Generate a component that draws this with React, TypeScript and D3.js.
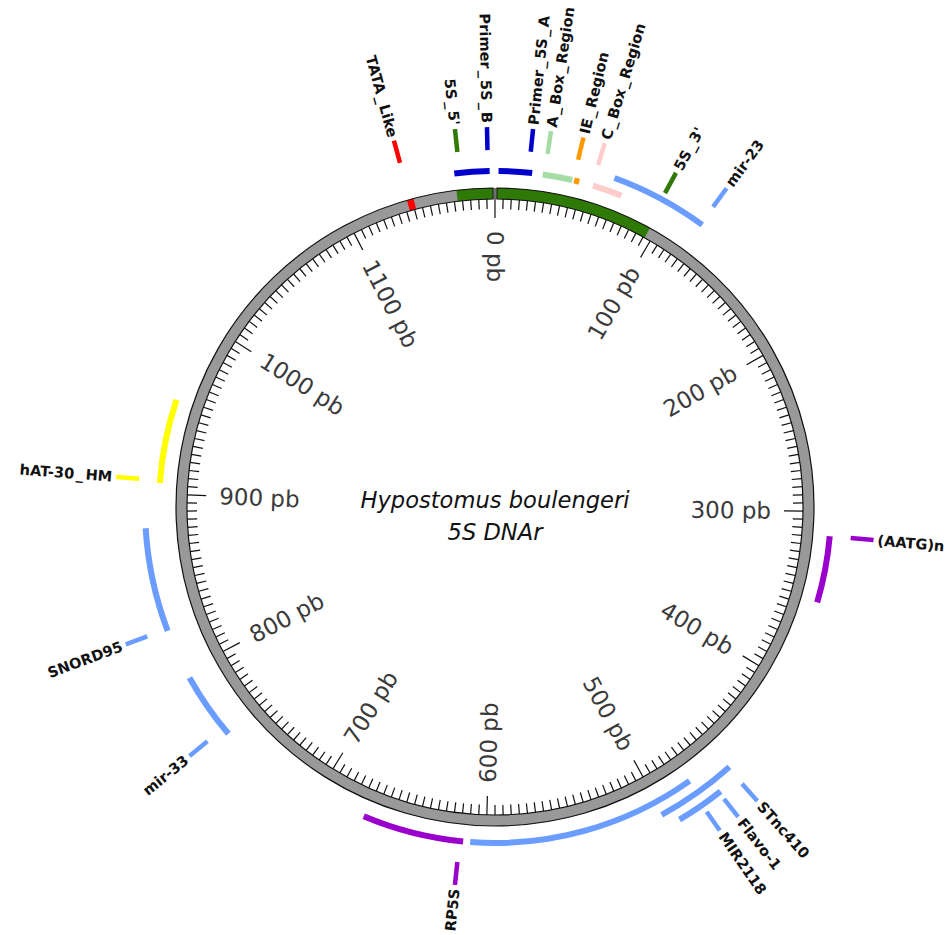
import React from 'react';
import * as d3 from 'd3';

// ---------- data ----------
const TOTAL = 1190;
const TITLE_LINES = ['Hypostomus boulengeri', '5S DNAr'];
const MAJOR_TICKS = [0, 100, 200, 300, 400, 500, 600, 700, 800, 900, 1000, 1100];
const TICK_LABELS = MAJOR_TICKS.map((v) => `${v} pb`);
const MINOR_STEP = 5;

// features drawn inside the backbone ring
const RING_NAMES = ["5S_5'", "5S_3'", 'TATA_Like'];
const RING_STARTS = [1167, 0, 1137];
const RING_ENDS = [1190, 96, 1141];
const RING_LABEL_POS = [1170, 94, 1139];
const RING_COLORS = ['#2f7a06', '#2f7a06', '#ff0000'];

// features drawn on the outer tracks
const FEAT_NAMES = [
  'Primer_5S_B', 'Primer_5S_A', 'A_Box_Region', 'IE_Region', 'C_Box_Region', 'mir-23',
  '(AATG)n', 'STnc410', 'Flavo-1', 'MIR2118', 'RP5S', 'mir-33', 'SNORD95', 'hAT-30_HM',
];
const FEAT_STARTS = [1167, 2, 27, 45, 56, 66, 314, 456, 468, 478, 613, 759, 824, 906];
const FEAT_ENDS = [1187, 21, 44, 48, 73, 120, 352, 501, 494, 609, 671, 796, 881, 954];
const FEAT_TRACKS = [1, 1, 1, 1, 1, 2, 1, 2, 3, 1, 1, 2, 2, 1];
const FEAT_LABEL_POS = [1186, 19, 28, 44.5, 55.5, 119, 314, 457, 469, 480, 615, 763, 825, 907.5];
const FEAT_LABEL_TRACKS = [1, 1, 1, 1, 1, 2, 1, 2, 2, 2, 1, 2, 2, 1];
const FEAT_COLORS = [
  '#0000cc', '#0000cc', '#a6dba6', '#ff9900', '#ffcccc', '#6a9dff',
  '#9900cc', '#6a9dff', '#6a9dff', '#6a9dff', '#9900cc', '#6a9dff', '#6a9dff', '#ffff00',
];

// ---------- layout ----------
const W = 952;
const H = 935;
const CX = 495;
const CY = 507;
const R_OUT = 319;
const R_IN = 308;
const TRACK_R = [0, 336, 350, 363];
const ARC_W = 6;
const LABEL_GAP = 21;
const LABEL_LEN = 23;
const GAP = 0.006;
const US_PAD = 2;

const angle = d3.scaleLinear().domain([0, TOTAL]).range([0, 2 * Math.PI]);

function pt(a: number, r: number): [number, number] {
  return [CX + r * Math.sin(a), CY - r * Math.cos(a)];
}

// render a label, giving the underscore a little extra room as in the reference font
function labelSpans(name: string) {
  const parts = name.split('_');
  const out: React.ReactNode[] = [];
  parts.forEach((p, i) => {
    if (i > 0) {
      out.push(
        <tspan key={'u' + i} dx={US_PAD}>
          _
        </tspan>
      );
      out.push(
        <tspan key={'p' + i} dx={US_PAD}>
          {p}
        </tspan>
      );
    } else {
      out.push(<tspan key={'p' + i}>{p}</tspan>);
    }
  });
  return out;
}

export default function App() {
  const ringArc = d3.arc<any>()
    .innerRadius(R_IN)
    .outerRadius(R_OUT)
    .startAngle(GAP)
    .endAngle(2 * Math.PI - GAP);

  const clampA = (a: number) => Math.max(GAP, Math.min(2 * Math.PI - GAP, a));

  const ringSegs = RING_NAMES.map((name, i) => {
    const p = d3.arc<any>()
      .innerRadius(R_IN)
      .outerRadius(R_OUT)
      .startAngle(clampA(angle(RING_STARTS[i])))
      .endAngle(clampA(angle(RING_ENDS[i])))({});
    return { name, d: p as string, color: RING_COLORS[i] };
  });

  const featArcs = FEAT_NAMES.map((name, i) => {
    const r = TRACK_R[FEAT_TRACKS[i]];
    const d = d3.arc<any>()
      .innerRadius(r - ARC_W / 2)
      .outerRadius(r + ARC_W / 2)
      .startAngle(angle(FEAT_STARTS[i]))
      .endAngle(angle(FEAT_ENDS[i]))({}) as string;
    return { name, d, color: FEAT_COLORS[i] };
  });

  const labels = [
    ...RING_NAMES.map((name, i) => ({ name, pos: RING_LABEL_POS[i], track: 1, color: RING_COLORS[i] })),
    ...FEAT_NAMES.map((name, i) => ({ name, pos: FEAT_LABEL_POS[i], track: FEAT_LABEL_TRACKS[i], color: FEAT_COLORS[i] })),
  ];

  const minorTicks = d3.range(0, TOTAL, MINOR_STEP).filter((v) => v % 100 !== 0);

  return (
    <svg width={W} height={H} style={{ position: 'absolute', left: 0, top: 0, background: '#fff' }}>
      {/* outer feature arcs */}
      {featArcs.map((f) => (
        <path key={f.name} d={f.d} transform={`translate(${CX},${CY})`} fill={f.color} />
      ))}

      {/* backbone ring */}
      <g transform={`translate(${CX},${CY})`}>
        <path d={ringArc({}) as string} fill="#999999" />
        {ringSegs.map((s) => (
          <path key={s.name} d={s.d} fill={s.color} />
        ))}
        <path d={ringArc({}) as string} fill="none" stroke="#111" strokeWidth={1.2} />
      </g>

      {/* ticks */}
      <g stroke="#111" strokeWidth={1.2}>
        {minorTicks.map((v) => {
          const a = angle(v);
          const [x1, y1] = pt(a, R_IN);
          const [x2, y2] = pt(a, R_IN - 10);
          return <line key={v} x1={x1} y1={y1} x2={x2} y2={y2} />;
        })}
        {MAJOR_TICKS.map((v) => {
          const a = angle(v);
          const [x1, y1] = pt(a, v === 0 ? R_OUT : R_IN);
          const [x2, y2] = pt(a, R_IN - 19);
          return <line key={'M' + v} x1={x1} y1={y1} x2={x2} y2={y2} />;
        })}
      </g>

      {/* tick labels */}
      <g fontFamily="DejaVu Sans" fontSize={23} fill="#3a3a3a">
        {MAJOR_TICKS.map((v, i) => {
          const a = angle(v);
          const deg = (a * 180) / Math.PI;
          const right = deg > 0 && deg < 180;
          const [x, y] = pt(a, 276);
          const rot = right ? deg - 90 : deg + 90;
          return (
            <text
              key={'t' + v}
              transform={`translate(${x},${y}) rotate(${rot})`}
              textAnchor={right ? 'end' : 'start'}
              dy="0.35em"
            >
              {TICK_LABELS[i]}
            </text>
          );
        })}
      </g>

      {/* feature labels */}
      <g fontFamily="DejaVu Sans" fontWeight="bold" fontSize={14.6} fill="#111">
        {labels.map((l) => {
          const a = angle(l.pos);
          const deg = (a * 180) / Math.PI;
          const right = deg > 0 && deg < 180;
          const r0 = TRACK_R[l.track] + LABEL_GAP;
          const r1 = r0 + LABEL_LEN;
          const [x1, y1] = pt(a, r0);
          const [x2, y2] = pt(a, r1);
          const [tx, ty] = pt(a, r1 + 4);
          const rot = right ? deg - 90 : deg + 90;
          return (
            <g key={'l' + l.name}>
              <line x1={x1} y1={y1} x2={x2} y2={y2} stroke={l.color} strokeWidth={4.5} />
              <text
                transform={`translate(${tx},${ty}) rotate(${rot})`}
                textAnchor={right ? 'start' : 'end'}
                dy="0.35em"
              >
                {labelSpans(l.name)}
              </text>
            </g>
          );
        })}
      </g>

      {/* title */}
      <g fontFamily="DejaVu Sans" fontStyle="italic" fontSize={22.6} fill="#111" textAnchor="middle">
        {TITLE_LINES.map((t, i) => (
          <text key={t} x={CX} y={508 + i * 32}>
            {t}
          </text>
        ))}
      </g>
    </svg>
  );
}
